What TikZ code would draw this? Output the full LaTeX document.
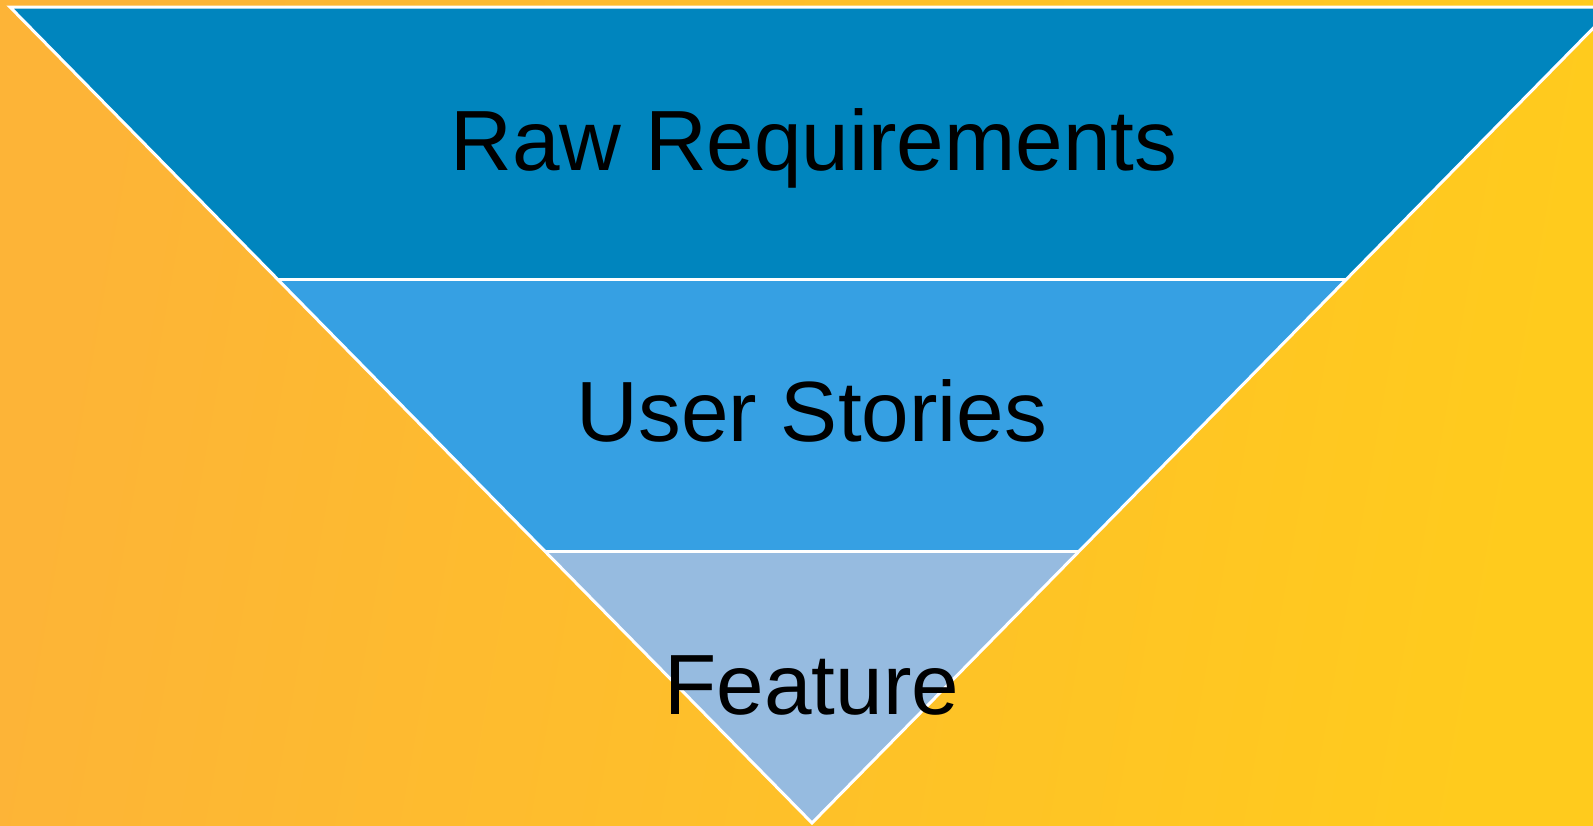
\documentclass[tikz,border=0pt]{standalone}
\usepackage{fontspec}
\setmainfont{Liberation Sans}
\definecolor{bgA}{HTML}{FDB437}
\definecolor{bgB}{HTML}{FFCB1D}
\definecolor{bandA}{HTML}{0085BE}
\definecolor{bandB}{HTML}{36A0E3}
\definecolor{bandC}{HTML}{96BBE0}
\tikzset{
  band/.style={draw=white, line width=3pt, line join=miter},
  label/.style={anchor=base, text=black, inner sep=0pt, font=\fontsize{85.5}{100}\selectfont}
}
\begin{document}
\begin{tikzpicture}[x=1pt,y=-1pt]
\useasboundingbox (0,0) rectangle (1593,825);
\shade[left color=bgA, right color=bgB, shading angle=80] (0,0) rectangle (1593,825);
% triangle geometry: top y=7, apex (812,823), bands at 279, 551
\coordinate (TL) at (10,7);
\coordinate (TR) at (1614,7);
\coordinate (L1) at (277.5,279);
\coordinate (R1) at (1346.5,279);
\coordinate (L2) at (545,551);
\coordinate (R2) at (1079,551);
\coordinate (AP) at (812,823);
\fill[bandA] (TL) -- (TR) -- (R1) -- (L1) -- cycle;
\fill[bandB] (L1) -- (R1) -- (R2) -- (L2) -- cycle;
\fill[bandC] (L2) -- (R2) -- (AP) -- cycle;
\draw[band] (TL) -- (TR) -- (AP) -- cycle;
\draw[band] (L1) -- (R1);
\draw[band] (L2) -- (R2);
\node[label] (raw) at (814,170) {Raw Requirements};
\node[label] (user) at (812,441) {User Stories};
\node[label] (feat) at (812,714) {Feature};
\end{tikzpicture}
\end{document}
